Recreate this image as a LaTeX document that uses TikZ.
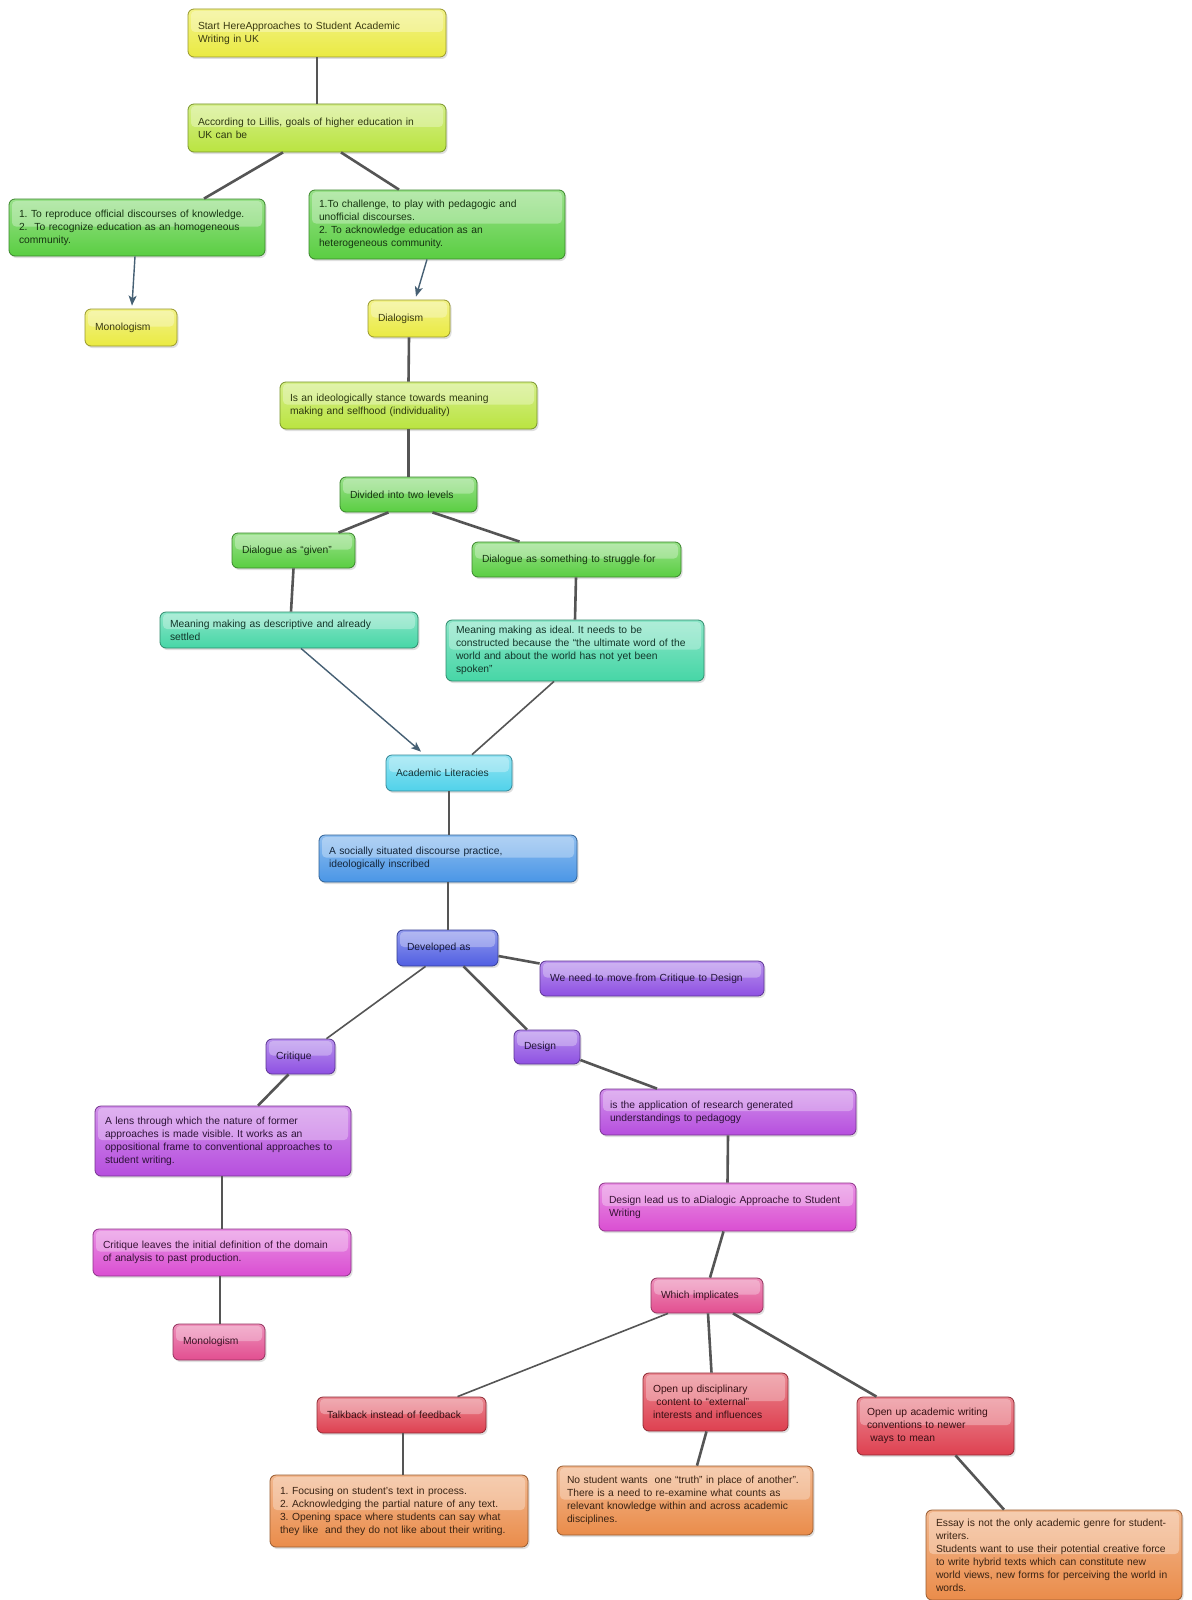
\documentclass[tikz,border=0pt]{standalone}
\usepackage{fontspec}
\setmainfont{Liberation Sans}
\usetikzlibrary{arrows,arrows.meta,calc,shadows}
\definecolor{YellowClr}{RGB}{234,234,66}
\definecolor{LimeClr}{RGB}{186,228,64}
\definecolor{GreenClr}{RGB}{90,206,66}
\definecolor{AquaClr}{RGB}{70,214,166}
\definecolor{CyanClr}{RGB}{80,210,234}
\definecolor{BlueClr}{RGB}{74,150,230}
\definecolor{IndigoClr}{RGB}{80,94,226}
\definecolor{PurpleClr}{RGB}{142,80,226}
\definecolor{VioletClr}{RGB}{182,78,222}
\definecolor{MagentaClr}{RGB}{218,78,210}
\definecolor{PinkClr}{RGB}{226,78,144}
\definecolor{RedClr}{RGB}{222,64,80}
\definecolor{OrangeClr}{RGB}{234,140,74}
\definecolor{LinkClr}{RGB}{85,85,85}
\definecolor{ArrowClr}{RGB}{70,96,116}
\frenchspacing
\hyphenpenalty=10000

\tikzset{
  Bubble/.style={rounded corners=6pt,draw=#1!65!black,line width=0.8pt,
    top color=#1!62!white,bottom color=#1,text=#1!25!black,
    font=\fontsize{10.3}{13}\selectfont,align=left,
    inner xsep=10pt,inner ysep=5pt,
    drop shadow={shadow xshift=1.5pt,shadow yshift=-2pt,opacity=0.25},
    path picture={\fill[white,opacity=0.3,rounded corners=4pt]
      ([xshift=3pt,yshift=-2pt]path picture bounding box.north west) rectangle
      ([xshift=-3pt,yshift=1pt]path picture bounding box.east);}},
  Link/.style={draw=LinkClr,line width=2.6pt},
  ThinLink/.style={draw=LinkClr,line width=1.6pt},
  LinkArrow/.style={draw=ArrowClr,line width=1.4pt,-{Stealth[length=10pt,width=8pt,inset=2.5pt]}}
}

\begin{document}
\begin{tikzpicture}[x=1pt,y=-1pt]
\useasboundingbox (0,0) rectangle (1191,1600);
\fill[white] (0,0) rectangle (1191,1600);

\node[Bubble=YellowClr,text width=238pt,minimum height=48pt] (start) at (317,33)
  {Start HereApproaches to Student Academic\\Writing in UK};
\node[Bubble=LimeClr,text width=238pt,minimum height=48pt] (lillis) at (317,128)
  {According to Lillis, goals of higher education in\\UK can be};
\node[Bubble=GreenClr,text width=236pt,minimum height=57pt] (reproduce) at (137,227.5)
  {1. To reproduce official discourses of knowledge.\\2.\ \ To recognize education as an homogeneous\\community.};
\node[Bubble=GreenClr,text width=236pt,minimum height=69pt] (challenge) at (437,224.5)
  {1.To challenge, to play with pedagogic and\\unofficial discourses.\\2. To acknowledge education as an\\heterogeneous community.};
\node[Bubble=YellowClr,text width=72pt,minimum height=37pt] (monoA) at (131,327.5) {Monologism};
\node[Bubble=YellowClr,text width=62pt,minimum height=37pt] (dialogism) at (409,318.5) {Dialogism};

\node[Bubble=LimeClr,text width=237pt,minimum height=47pt] (stance) at (408.5,405.5)
  {Is an ideologically stance towards meaning\\making and selfhood (individuality)};
\node[Bubble=GreenClr,text width=117pt,minimum height=35pt] (levels) at (408.5,494.5) {Divided into two levels};
\node[Bubble=GreenClr,text width=103pt,minimum height=35pt] (given) at (293.5,550.5) {Dialogue as “given”};
\node[Bubble=GreenClr,text width=189pt,minimum height=35pt] (struggle) at (576.5,559.5) {Dialogue as something to struggle for};
\node[Bubble=AquaClr,text width=238pt,minimum height=36pt] (descriptive) at (289,630)
  {Meaning making as descriptive and already\\settled};
\node[Bubble=AquaClr,text width=238pt,minimum height=61pt] (ideal) at (575,650.5)
  {Meaning making as ideal. It needs to be\\constructed because the “the ultimate word of the\\world and about the world has not yet been\\spoken”};

\node[Bubble=CyanClr,text width=106pt,minimum height=36pt] (literacies) at (449,773) {Academic Literacies};
\node[Bubble=BlueClr,text width=238pt,minimum height=47pt] (socially) at (448,858.5)
  {A socially situated discourse practice,\\ideologically inscribed};
\node[Bubble=IndigoClr,text width=81pt,minimum height=36pt] (developed) at (447.5,948) {Developed as};
\node[Bubble=PurpleClr,text width=204pt,minimum height=35pt] (moveto) at (652,978.5) {We need to move from Critique to Design};
\node[Bubble=PurpleClr,text width=49pt,minimum height=35pt] (critique) at (300.5,1056.5) {Critique};
\node[Bubble=PurpleClr,text width=46pt,minimum height=34pt] (design) at (547,1047) {Design};

\node[Bubble=VioletClr,text width=236pt,minimum height=70pt] (lens) at (223,1141)
  {A lens through which the nature of former\\approaches is made visible. It works as an\\oppositional frame to conventional approaches to\\student writing.};
\node[Bubble=VioletClr,text width=236pt,minimum height=46pt] (application) at (728,1112)
  {is the application of research generated\\understandings to pedagogy};
\node[Bubble=MagentaClr,text width=238pt,minimum height=47pt] (leaves) at (222,1252.5)
  {Critique leaves the initial definition of the domain\\of analysis to past production.};
\node[Bubble=MagentaClr,text width=237pt,minimum height=48pt] (leadus) at (727.5,1207)
  {Design lead us to aDialogic Approache to Student\\Writing};
\node[Bubble=PinkClr,text width=72pt,minimum height=36pt] (monoB) at (219,1342) {Monologism};
\node[Bubble=PinkClr,text width=92pt,minimum height=35pt] (implicates) at (707,1295.5) {Which implicates};

\node[Bubble=RedClr,text width=149pt,minimum height=36pt] (talkback) at (401.5,1415) {Talkback instead of feedback};
\node[Bubble=RedClr,text width=125pt,minimum height=58pt] (disciplinary) at (715.5,1402)
  {Open up disciplinary\\\ content to “external”\\interests and influences};
\node[Bubble=RedClr,text width=137pt,minimum height=58pt] (conventions) at (935.5,1426)
  {Open up academic writing\\conventions to newer\\\ ways to mean};
\node[Bubble=OrangeClr,text width=238pt,minimum height=72pt] (focusing) at (399,1511)
  {1. Focusing on student’s text in process.\\2. Acknowledging the partial nature of any text.\\3. Opening space where students can say what\\they like\ \ and they do not like about their writing.};
\node[Bubble=OrangeClr,text width=236pt,minimum height=69pt] (nostudent) at (685,1500.5)
  {No student wants\ \ one “truth” in place of another”.\\There is a need to re-examine what counts as\\relevant knowledge within and across academic\\disciplines.};
\node[Bubble=OrangeClr,text width=236pt,minimum height=90pt] (essay) at (1054,1555)
  {Essay is not the only academic genre for student-\\writers.\\Students want to use their potential creative force\\to write hybrid texts which can constitute new\\world views, new forms for perceiving the world in\\words.};

\draw[Link] (start.south) -- (lillis.north);
\draw[Link] ([xshift=-34pt]lillis.south) -- ([xshift=67pt]reproduce.north);
\draw[Link] ([xshift=24pt]lillis.south) -- ([xshift=-38pt]challenge.north);
\draw[LinkArrow] ([xshift=-2pt]reproduce.south) -- ([xshift=1pt,yshift=3pt]monoA.north);
\draw[LinkArrow] ([xshift=-10pt]challenge.south) -- ([xshift=7pt,yshift=3pt]dialogism.north);
\draw[Link] (dialogism.south) -- (stance.north);
\draw[Link] (stance.south) -- (levels.north);
\draw[Link] ([xshift=-20pt]levels.south) -- ([xshift=45pt]given.north);
\draw[Link] ([xshift=24pt]levels.south) -- ([xshift=-57pt]struggle.north);
\draw[Link] (given.south) -- ([xshift=2pt]descriptive.north);
\draw[Link] ([xshift=-0.5pt]struggle.south) -- (ideal.north);
\draw[LinkArrow] ([xshift=12pt]descriptive.south) -- ([xshift=-28pt,yshift=3pt]literacies.north);
\draw[ThinLink] ([xshift=-21pt]ideal.south) -- ([xshift=23pt]literacies.north);
\draw[Link] (literacies.south) -- ([xshift=1pt]socially.north);
\draw[ThinLink] (socially.south) -- ([xshift=0.5pt]developed.north);
\draw[Link] ([yshift=-8pt]developed.east) -- ([yshift=15pt]moveto.west);
\draw[ThinLink] ([xshift=-22pt]developed.south) -- ([xshift=26pt]critique.north);
\draw[Link] ([xshift=16pt]developed.south) -- ([xshift=-20pt]design.north);
\draw[Link] ([xshift=-12pt]critique.south) -- ([xshift=35pt]lens.north);
\draw[Link] ([yshift=-13pt]design.east) -- ([xshift=-71pt]application.north);
\draw[ThinLink] ([xshift=-1pt]lens.south) -- (leaves.north);
\draw[Link] (application.south) -- (leadus.north);
\draw[ThinLink] ([xshift=-2pt]leaves.south) -- ([xshift=1pt]monoB.north);
\draw[Link] ([xshift=-4pt]leadus.south) -- ([xshift=3pt]implicates.north);
\draw[ThinLink] ([xshift=-39pt]implicates.south) -- ([xshift=56pt]talkback.north);
\draw[Link] ([xshift=1pt]implicates.south) -- ([xshift=-4pt]disciplinary.north);
\draw[Link] ([xshift=26pt]implicates.south) -- ([xshift=-59pt]conventions.north);
\draw[Link] ([xshift=1.5pt]talkback.south) -- ([xshift=4pt]focusing.north);
\draw[Link] ([xshift=-9pt]disciplinary.south) -- ([xshift=12pt]nostudent.north);
\draw[Link] ([xshift=20pt]conventions.south) -- ([xshift=-50pt]essay.north);

\end{tikzpicture}
\end{document}
